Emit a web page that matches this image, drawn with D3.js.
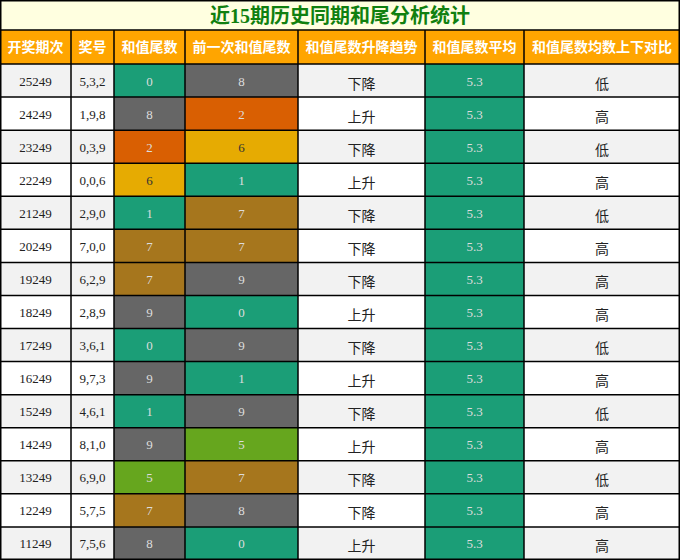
<!DOCTYPE html><html><head><meta charset="utf-8"><script src="https://cdn.jsdelivr.net/npm/d3@7"></script>
<style>body{margin:0;background:#fff}</style></head><body><svg id="c" width="680" height="560"></svg>
<script>
const title="近15期历史同期和尾分析统计";
const headers=["开奖期次","奖号","和值尾数","前一次和值尾数","和值尾数升降趋势","和值尾数平均","和值尾数均数上下对比"];
const periods=["25249","24249","23249","22249","21249","20249","19249","18249","17249","16249","15249","14249","13249","12249","11249"];
const draws=["5,3,2","1,9,8","0,3,9","0,0,6","2,9,0","7,0,0","6,2,9","2,8,9","3,6,1","9,7,3","4,6,1","8,1,0","6,9,0","5,7,5","7,5,6"];
const tails=[0,8,2,6,1,7,7,9,0,9,1,9,5,7,8];
const prevTails=[8,2,6,1,7,7,9,0,9,1,9,5,7,8,0];
const trends=["下降","上升","下降","上升","下降","下降","下降","上升","下降","上升","下降","上升","下降","下降","上升"];
const avgs=[5.3,5.3,5.3,5.3,5.3,5.3,5.3,5.3,5.3,5.3,5.3,5.3,5.3,5.3,5.3];
const compares=["低","高","低","高","低","高","高","高","低","高","低","高","低","高","高"];
const colEdges=[0,71,114,185,298,425,524,680];
const svg=d3.select("#c");
const color=d3.scaleOrdinal().domain([0,1,2,5,6,7,8,9]).range(["#1b9e77","#1b9e77","#d95f02","#66a61e","#e6ab02","#a6761d","#666666","#666666"]);
const y=d3.scaleBand().domain(d3.range(15)).range([64,560]);
svg.append("rect").attr("x",0).attr("y",0).attr("width",680).attr("height",30).attr("fill","#ffffe0");
svg.append("text").attr("x",340).attr("y",23).attr("text-anchor","middle").attr("fill","#108010").attr("font-size",20).attr("font-weight","bold").attr("font-family","'Liberation Serif','Noto Sans CJK SC'").text(title);
headers.forEach((h,i)=>{
 svg.append("rect").attr("x",colEdges[i]).attr("y",30).attr("width",colEdges[i+1]-colEdges[i]).attr("height",34).attr("fill","#ffa500");
 svg.append("text").attr("x",(colEdges[i]+colEdges[i+1])/2).attr("y",52).attr("text-anchor","middle").attr("fill","#fff").attr("font-size",14).attr("font-weight","bold").attr("font-family","'Noto Sans CJK SC'").text(h);
});
periods.forEach((p,r)=>{
 const vals=[p,draws[r],tails[r],prevTails[r],trends[r],avgs[r].toFixed(1),compares[r]];
 const bg=r%2===0?"#f2f2f2":"#ffffff";
 vals.forEach((v,i)=>{
  let fill=bg,tc="#222";
  if(i===2||i===3){fill=color(v);tc=v===6?"#333":"#ddd";}
  if(i===5){fill="#1b9e77";tc="#ddd";}
  const cjk=(i===4||i===6);
  svg.append("rect").attr("x",colEdges[i]).attr("y",y(r)).attr("width",colEdges[i+1]-colEdges[i]).attr("height",y.bandwidth()).attr("fill",fill);
  svg.append("text").attr("x",(colEdges[i]+colEdges[i+1])/2).attr("y",y(r)+y.bandwidth()/2+(cjk?8:5)).attr("text-anchor","middle").attr("fill",tc).attr("font-size",cjk?14:13).attr("font-family",cjk?"'Noto Sans CJK SC'":"'Liberation Serif'").text(v);
 });
});
const g=svg.append("g").attr("stroke","#000").attr("stroke-width",1.5);
colEdges.forEach(x=>g.append("line").attr("x1",x).attr("x2",x).attr("y1",30).attr("y2",560));
[30,...d3.range(15).map(r=>y(r)),560].forEach(yy=>g.append("line").attr("x1",0).attr("x2",680).attr("y1",yy).attr("y2",yy));
g.append("rect").attr("x",0.75).attr("y",0.75).attr("width",678.5).attr("height",558.5).attr("fill","none");
</script></body></html>
